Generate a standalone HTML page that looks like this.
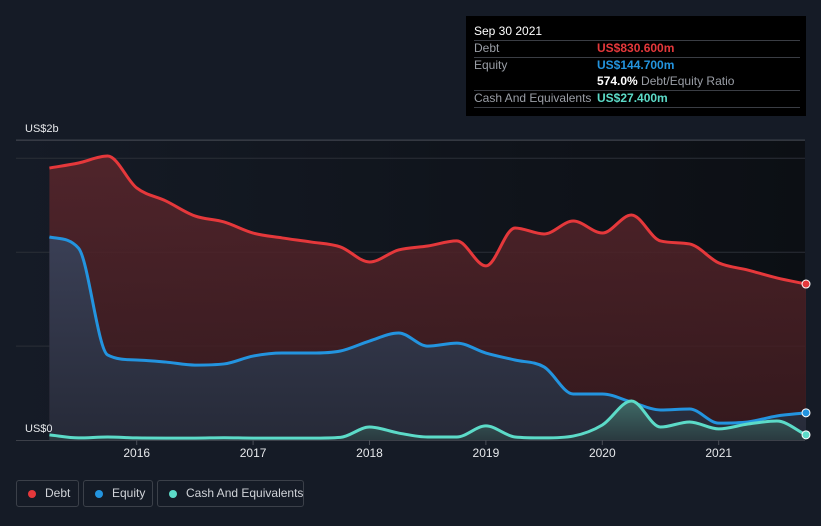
<!DOCTYPE html>
<html><head><meta charset="utf-8">
<style>
body{margin:0;background:#151b26;font-family:"Liberation Sans",sans-serif;}
#wrap{position:relative;width:821px;height:526px;overflow:hidden;background:#151b26;}
.tip{position:absolute;left:466px;top:16px;width:340px;height:100px;background:#000;}
.tip div{position:absolute;font-size:12px;white-space:nowrap;}
.sep{position:absolute;left:8px;width:326px;height:1px;background:#3a3d44;}
.leg{position:absolute;top:480px;height:27px;border:1px solid #3b4049;border-radius:3px;box-sizing:border-box;color:#d0d3d8;font-size:12px;line-height:25px;white-space:nowrap;}
.dot{position:absolute;top:9px;width:8px;height:8px;border-radius:50%;}
</style></head><body>
<div id="wrap">
<svg id="chart" width="821" height="526" style="position:absolute;left:0;top:0">
<defs>
<linearGradient id="bg" x1="0" x2="1" y1="0" y2="0"><stop offset="0" stop-color="#151b26"/><stop offset="1" stop-color="#0c0f14"/></linearGradient>
<linearGradient id="dg" x1="0" x2="0" y1="0" y2="1"><stop offset="0" stop-color="#5a262c" stop-opacity="0.85"/><stop offset="1" stop-color="#3a1a1e" stop-opacity="0.85"/></linearGradient>
<linearGradient id="eg" x1="0" x2="0" y1="0" y2="1"><stop offset="0" stop-color="#3a3f55"/><stop offset="1" stop-color="#262a38"/></linearGradient>
<linearGradient id="cg" x1="0" x2="0" y1="0" y2="1"><stop offset="0" stop-color="#3f6a66"/><stop offset="1" stop-color="#2a3a40"/></linearGradient>
</defs>
<rect x="16" y="140" width="789" height="300" fill="url(#bg)"/>
<g id="grid"></g>
<g id="series"></g>
<g id="xaxis"></g>
<text x="25" y="132" fill="#e6e8eb" font-size="11">US$2b</text>
<text x="25" y="432" fill="#e6e8eb" font-size="11">US$0</text>
</svg>
<div class="tip">
<div style="left:8px;top:8px;color:#fff;font-size:12px;">Sep 30 2021</div>
<div class="sep" style="top:24px"></div>
<div style="left:8px;top:25px;color:#9a9ea6">Debt</div>
<div style="left:131px;top:25px;color:#e5383b;font-weight:bold">US$830.600m</div>
<div class="sep" style="top:41px"></div>
<div style="left:8px;top:42px;color:#9a9ea6">Equity</div>
<div style="left:131px;top:42px;color:#2394df;font-weight:bold">US$144.700m</div>
<div style="left:131px;top:58px;color:#9a9ea6"><b style="color:#fff">574.0%</b> Debt/Equity Ratio</div>
<div class="sep" style="top:74px"></div>
<div style="left:8px;top:75px;color:#9a9ea6">Cash And Equivalents</div>
<div style="left:131px;top:75px;color:#5cdbc8;font-weight:bold">US$27.400m</div>
<div class="sep" style="top:91px"></div>
</div>
<div class="leg" style="left:16px;width:63px"><span class="dot" style="left:11px;background:#e5383b"></span><span style="position:absolute;left:28px">Debt</span></div>
<div class="leg" style="left:83px;width:70px"><span class="dot" style="left:11px;background:#2394df"></span><span style="position:absolute;left:28px">Equity</span></div>
<div class="leg" style="left:157px;width:147px"><span class="dot" style="left:11px;background:#5cdbc8"></span><span style="position:absolute;left:28px">Cash And Equivalents</span></div>
</div>
<script>
const quarters=[2015.25,2015.5,2015.75,2016,2016.25,2016.5,2016.75,2017,2017.25,2017.5,2017.75,2018,2018.25,2018.5,2018.75,2019,2019.25,2019.5,2019.75,2020,2020.25,2020.5,2020.75,2021,2021.25,2021.5,2021.75];
const debt=[1448,1475,1512,1342,1273,1193,1161,1102,1076,1054,1028,948,1012,1033,1060,927,1129,1097,1166,1102,1198,1060,1044,943,905,863,830.6];
const equity=[1081,1022,453,426,415,399,405,447,463,463,474,527,570,500,516,463,426,389,245,245,202,160,165,90,96,128,144.7];
const cash=[27,11,16,11,10,10,12,10,10,10,14,69,37,16,16,75,16,11,21,80,208,69,96,59,85,101,27.4];
const yearTicks=[2016,2017,2018,2019,2020,2021];
const gridVals=[500,1000,1500,1597];
const NS='http://www.w3.org/2000/svg';
const xS=t=>136.7+(t-2016)*116.4;
const yS=v=>440-v*0.1878;
function mk(tag,attrs,parent){const e=document.createElementNS(NS,tag);for(const k in attrs)e.setAttribute(k,attrs[k]);parent.appendChild(e);return e;}
const grid=document.getElementById('grid'),ser=document.getElementById('series'),xa=document.getElementById('xaxis');
gridVals.forEach((v,i)=>{const l=mk('line',{x1:16,x2:805,y1:yS(v),y2:yS(v),stroke:i==3?'#4a4e57':'#2b2f37','stroke-width':1},grid);

});
const base=mk('line',{x1:16,x2:805,y1:440.5,y2:440.5,stroke:'#3c4049'},xa);


yearTicks.forEach(y=>{const x=xS(y);
mk('line',{x1:x,x2:x,y1:440,y2:445,stroke:'#4a4e57'},xa);
const t=mk('text',{x:x,y:457,fill:'#e6e8eb','font-size':12,'text-anchor':'middle'},xa);t.textContent=y;

});
function pathD(vals){
const p=vals.map((v,i)=>[xS(quarters[i]),yS(v)]);const n=p.length;
const dx=[],s=[];for(let i=0;i<n-1;i++){dx.push(p[i+1][0]-p[i][0]);s.push((p[i+1][1]-p[i][1])/dx[i]);}
const m=[s[0]];for(let i=1;i<n-1;i++){m.push(s[i-1]*s[i]<=0?0:(s[i-1]+s[i])/2);}m.push(s[n-2]);
for(let i=0;i<n-1;i++){if(s[i]===0){m[i]=0;m[i+1]=0;continue;}const a=m[i]/s[i],b=m[i+1]/s[i],h=a*a+b*b;if(h>9){const t=3/Math.sqrt(h);m[i]=t*a*s[i];m[i+1]=t*b*s[i];}}
let d='M'+p[0][0]+','+p[0][1];
for(let i=0;i<n-1;i++){const h=dx[i]/3;d+=' C'+(p[i][0]+h)+','+(p[i][1]+m[i]*h)+' '+(p[i+1][0]-h)+','+(p[i+1][1]-m[i+1]*h)+' '+p[i+1][0]+','+p[i+1][1];}
return d;}
function area(vals,fill,stroke,name){const d=pathD(vals);const x0=xS(quarters[0]),x1=xS(quarters[quarters.length-1]);
const a=mk('path',{d:d+' L'+x1+',440 L'+x0+',440 Z',fill:fill},ser);


const l=mk('path',{d:d,fill:'none',stroke:stroke,'stroke-width':3,'stroke-linejoin':'round'},ser);


const c=mk('circle',{cx:x1,cy:yS(vals[vals.length-1]),r:4,fill:stroke,stroke:'#fff','stroke-width':1},ser);

}
area(debt,'url(#dg)','#e5383b','debt');
area(equity,'url(#eg)','#2394df','equity');
area(cash,'url(#cg)','#5cdbc8','cash');
</script>
</body></html>
